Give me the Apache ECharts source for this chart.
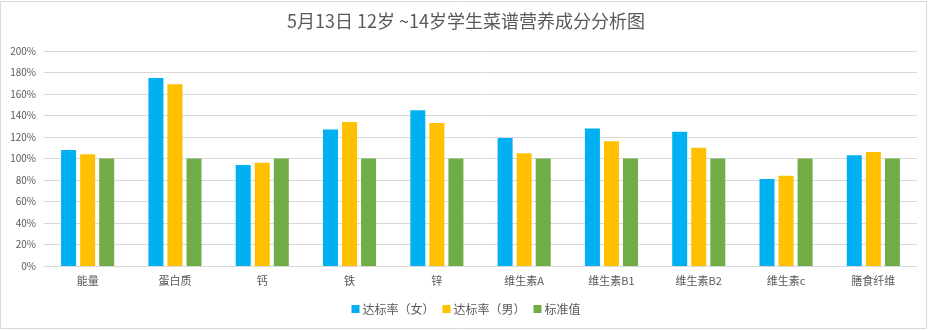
<!DOCTYPE html>
<html><head><meta charset="utf-8">
<script src="https://cdn.jsdelivr.net/npm/echarts@6/dist/echarts.min.js"></script>
<style>html,body{margin:0;padding:0;background:#fff}#c{width:932px;height:330px}</style>
</head><body><div id="c"></div>
<script>
const titleText = '5月13日 12岁 ~14岁学生菜谱营养成分分析图';
const categories = ['能量','蛋白质','钙','铁','锌','维生素A','维生素B1','维生素B2','维生素c','膳食纤维'];
const seriesNames = ['达标率（女）','达标率（男）','标准值'];
const female = [108, 175, 94, 127, 145, 119, 128, 125, 81, 103];
const male = [104, 169, 96, 134, 133, 105, 116, 110, 84, 106];
const standard = [100, 100, 100, 100, 100, 100, 100, 100, 100, 100];
const colors = ['#00B0F0','#FFC000','#70AD47'];
const font = '"Noto Sans CJK SC", "Noto Sans", sans-serif';

const chart = echarts.init(document.getElementById('c'), null, {renderer:'canvas'});
chart.setOption({
  animation:false,
  color: colors,
  title:{text:titleText,left:'center',top:7,textStyle:{fontSize:18,fontWeight:'normal',color:'#595959',fontFamily:font}},
  legend:{bottom:10,left:'center',itemWidth:8,itemHeight:8,itemGap:8,icon:'rect',
    textStyle:{fontSize:12,color:'#595959',fontFamily:font,padding:[0,0,0,-2]},data:seriesNames},
  grid:{left:44,right:15,top:51,bottom:64,containLabel:false},
  xAxis:{type:'category',data:categories,axisTick:{show:false},
    axisLine:{lineStyle:{color:'#d9d9d9'}},
    axisLabel:{fontSize:11,color:'#595959',margin:9,fontFamily:font}},
  yAxis:{type:'value',min:0,max:200,interval:20,
    axisLabel:{formatter:'{value}%',fontSize:10,color:'#595959',margin:8,fontFamily:font},
    splitLine:{lineStyle:{color:'#d9d9d9'}},axisLine:{show:false},axisTick:{show:false}},
  series:[
    {name:seriesNames[0],type:'bar',data:female,barWidth:15,barGap:'27%'},
    {name:seriesNames[1],type:'bar',data:male,barWidth:15,barGap:'27%'},
    {name:seriesNames[2],type:'bar',data:standard,barWidth:15,barGap:'27%'}
  ],
  graphic:[{type:'rect',shape:{x:0.5,y:1.5,width:926,height:327},style:{fill:'none',stroke:'#d9d9d9',lineWidth:1},silent:true}]
});
</script></body></html>
